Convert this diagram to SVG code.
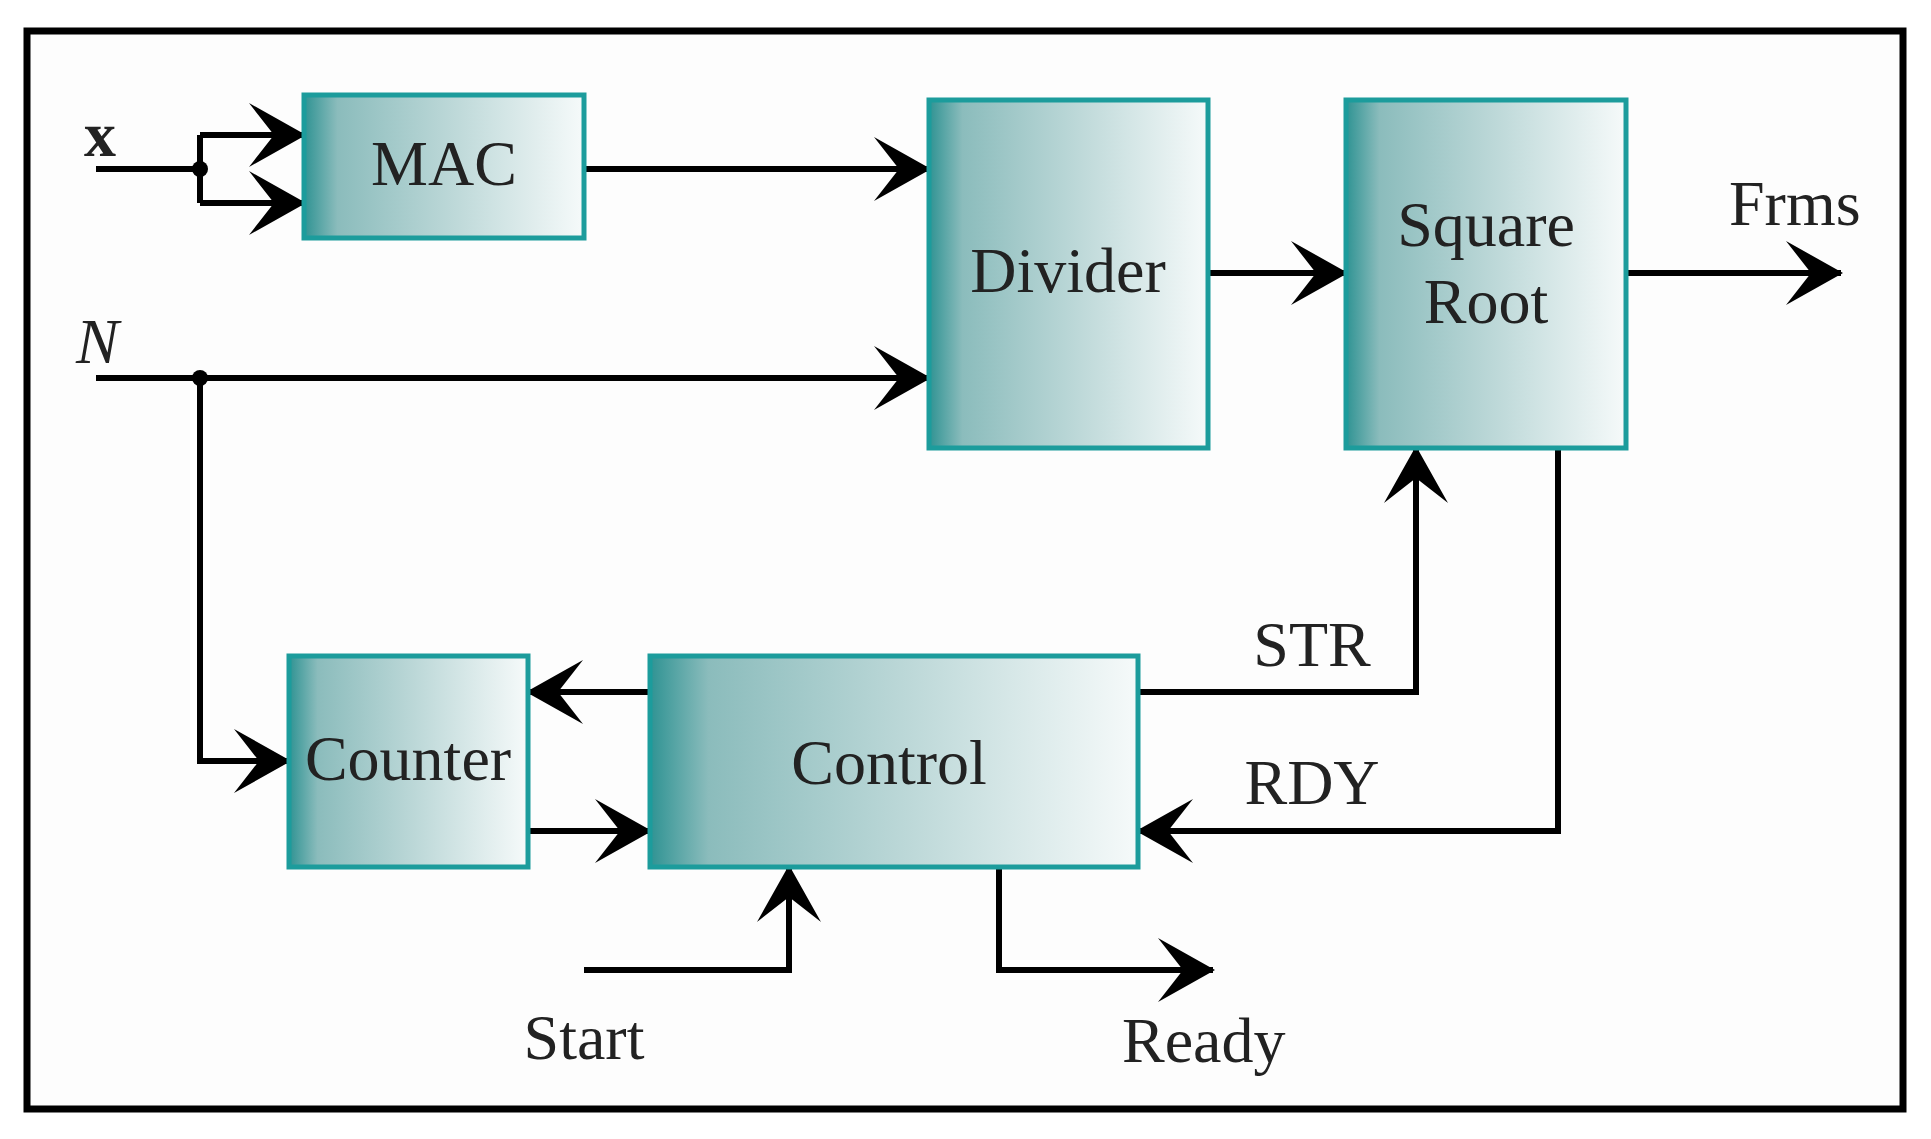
<svg xmlns="http://www.w3.org/2000/svg" width="1931" height="1139" viewBox="0 0 1931 1139">
<defs>
<linearGradient id="g" x1="0" y1="0" x2="1" y2="0">
<stop offset="0" stop-color="#2f9393"/><stop offset="0.12" stop-color="#8bbcbc"/><stop offset="0.5" stop-color="#b9d6d6"/><stop offset="1" stop-color="#f6fafa"/>
</linearGradient>
<marker id="a" markerUnits="userSpaceOnUse" markerWidth="70" markerHeight="70" viewBox="-60 -35 62 70" refX="0" refY="0" orient="auto">
<path d="M2,0 L-55,-32 L-30,0 L-55,32 Z" fill="#000"/>
</marker>
<style>
.box{fill:url(#g);stroke:#1c9c9c;stroke-width:5}
.t{font-family:"Liberation Serif","Times New Roman",serif;font-size:64px;fill:#222}
.w{fill:none;stroke:#000;stroke-width:6}
</style>
</defs>
<rect width="1931" height="1139" fill="#fff"/>
<rect x="27" y="31" width="1876" height="1078" fill="#fdfdfd" stroke="#000" stroke-width="7"/>
<g id="connectors">
<path class="w" d="M96,169 H200"/>
<path class="w" d="M200,135 V203"/>
<path class="w" d="M200,135 H304" marker-end="url(#a)"/>
<path class="w" d="M200,203 H304" marker-end="url(#a)"/>
<circle cx="200" cy="169" r="8"/>
<path class="w" d="M584,169 H929" marker-end="url(#a)"/>
<path class="w" d="M96,378 H929" marker-end="url(#a)"/>
<circle cx="200" cy="378" r="8"/>
<path class="w" d="M200,378 V761 H289" marker-end="url(#a)"/>
<path class="w" d="M1208,273 H1346" marker-end="url(#a)"/>
<path class="w" d="M1626,273 H1841" marker-end="url(#a)"/>
<path class="w" d="M1138,692 H1416 V448" marker-end="url(#a)"/>
<path class="w" d="M1558,448 V831 H1138" marker-end="url(#a)"/>
<path class="w" d="M650,692 H528" marker-end="url(#a)"/>
<path class="w" d="M528,831 H650" marker-end="url(#a)"/>
<path class="w" d="M584,970 H789 V867" marker-end="url(#a)"/>
<path class="w" d="M999,867 V970 H1213" marker-end="url(#a)"/>
</g>
<g id="mac"><rect class="box" x="304" y="95" width="280" height="143"/><text class="t" x="444" y="185" text-anchor="middle">MAC</text></g>
<g id="divider"><rect class="box" x="929" y="100" width="279" height="348"/><text class="t" x="1068" y="292" text-anchor="middle">Divider</text></g>
<g id="sqrt"><rect class="box" x="1346" y="100" width="280" height="348"/><text class="t" x="1486" y="246" text-anchor="middle">Square</text><text class="t" x="1486" y="323" text-anchor="middle">Root</text></g>
<g id="counter"><rect class="box" x="289" y="656" width="239" height="211"/><text class="t" x="408" y="780" text-anchor="middle">Counter</text></g>
<g id="control"><rect class="box" x="650" y="656" width="488" height="211"/><text class="t" x="889" y="784" text-anchor="middle">Control</text></g>
<g id="labels">
<text class="t" x="84" y="156" font-weight="bold" font-size="50">x</text>
<text class="t" x="76" y="363" font-style="italic">N</text>
<text class="t" x="1729" y="225">Frms</text>
<text class="t" x="1312" y="666" text-anchor="middle">STR</text>
<text class="t" x="1312" y="804" text-anchor="middle">RDY</text>
<text class="t" x="584" y="1059" text-anchor="middle">Start</text>
<text class="t" x="1122" y="1062">Ready</text>
</g>
</svg>
